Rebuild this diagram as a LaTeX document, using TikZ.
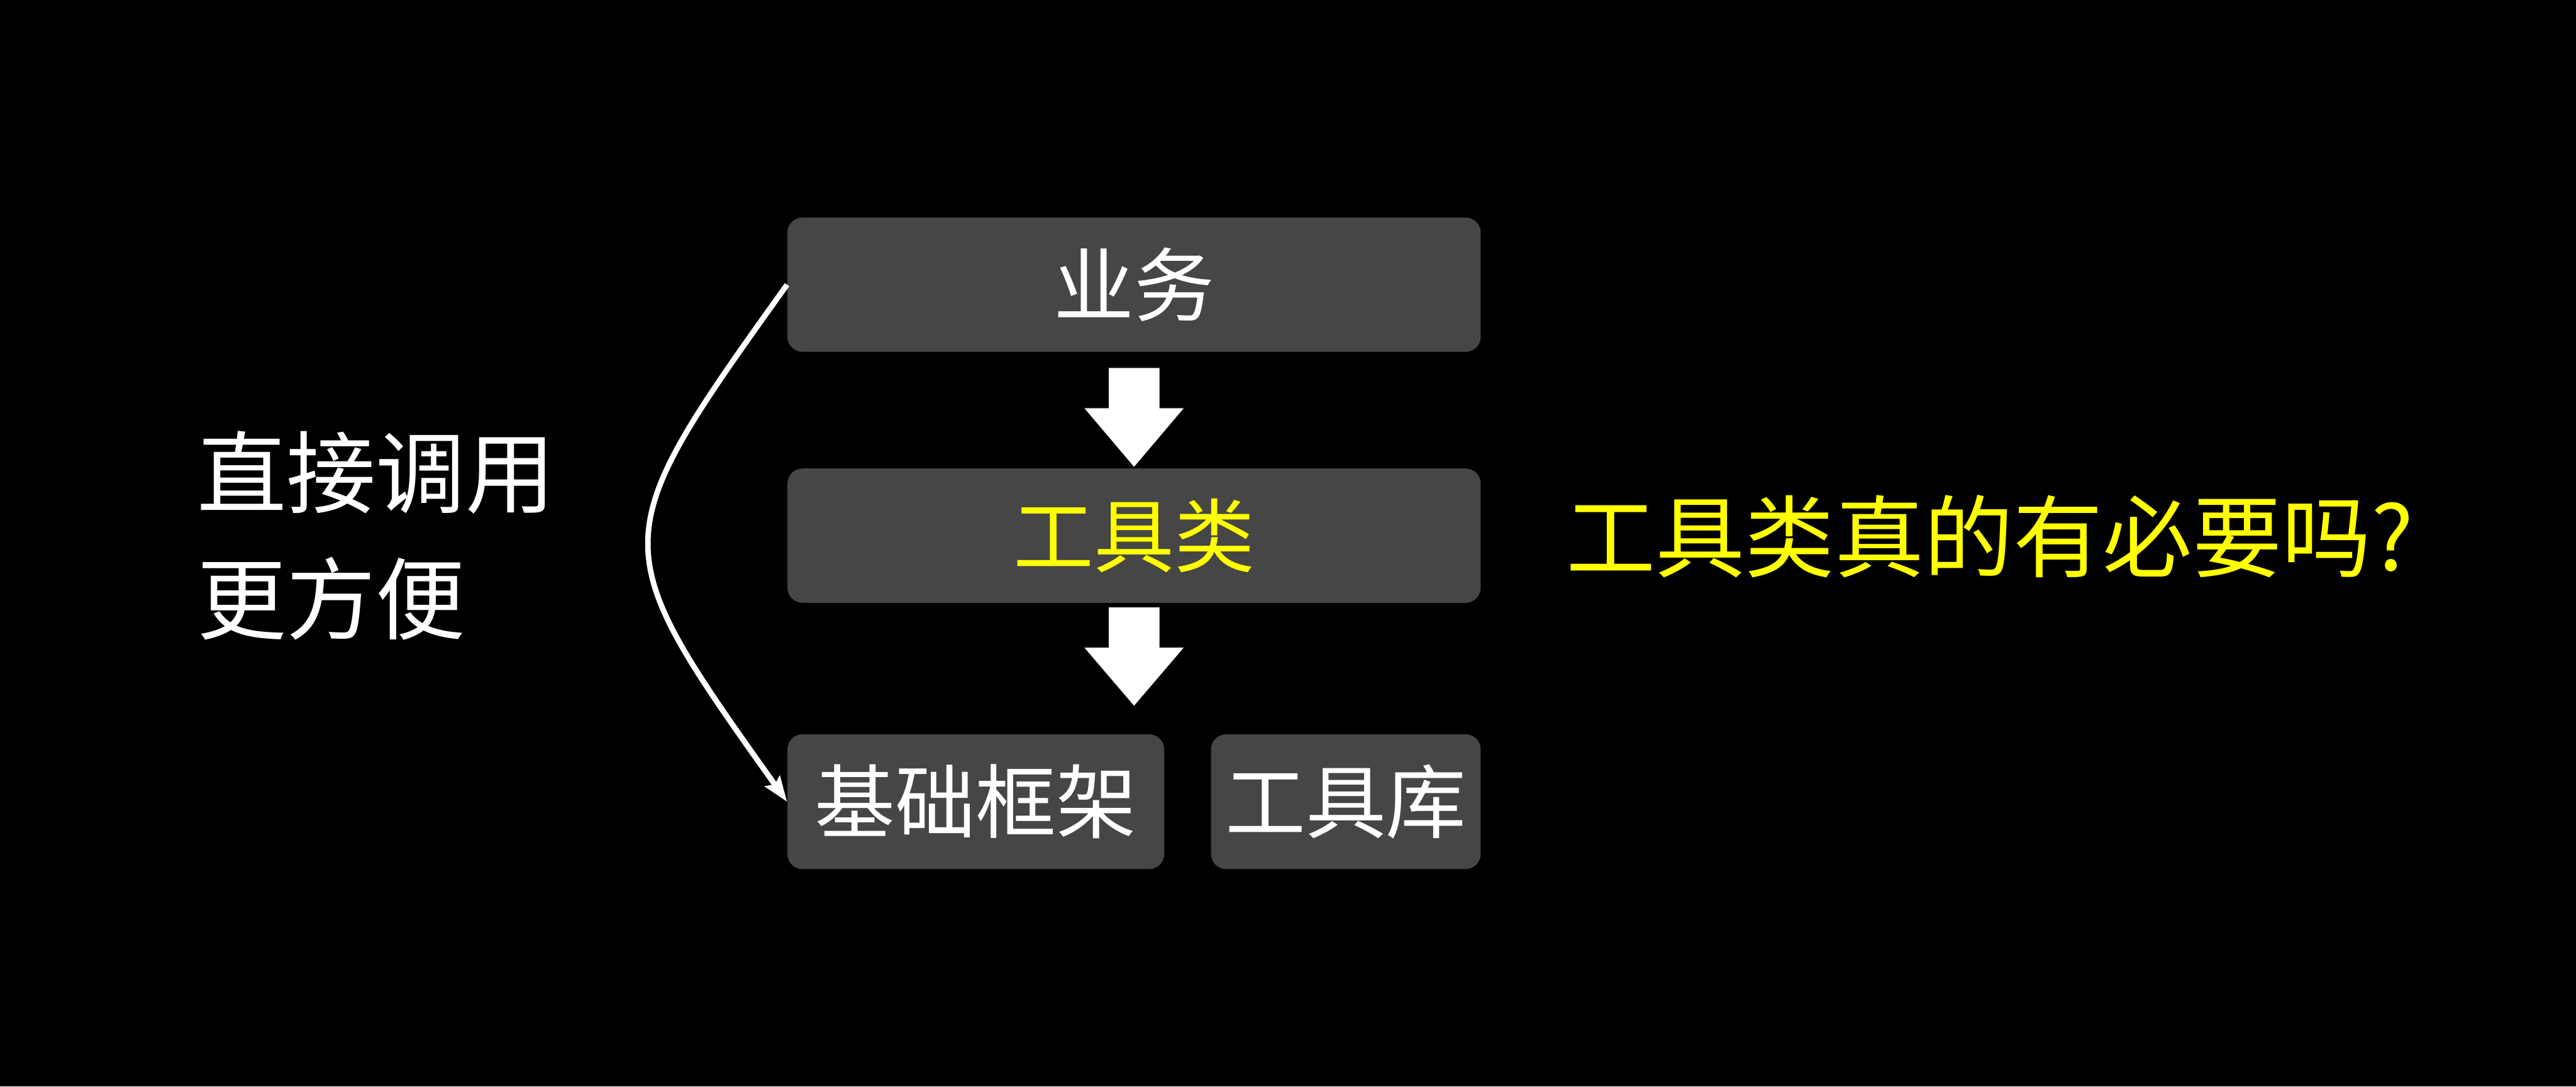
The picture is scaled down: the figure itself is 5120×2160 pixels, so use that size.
\documentclass[tikz,border=0pt]{standalone}
\usepackage{fontspec}
\newfontfamily\cjk{Noto Sans CJK SC}
\usetikzlibrary{calc,arrows.meta}
\definecolor{boxgray}{RGB}{70,70,70}
\definecolor{qyellow}{RGB}{255,255,0}
\begin{document}
\begin{tikzpicture}[x=0.1mm,y=-0.1mm,
  box/.style={fill=boxgray, rounded corners=3mm, inner sep=0pt, text=white,
    font=\cjk\fontsize{45.5pt}{50pt}\selectfont},
  big/.style={text=white, inner sep=0pt, font=\cjk\fontsize{50.6pt}{71.4pt}\selectfont},
  blockarrow/.style={fill=white, draw=black, line width=0.3pt},
  callarrow/.style={draw=white, line width=3.1pt, -{Stealth[length=5mm,width=3.6mm,inset=0.8mm]}}]
\fill[black] (0,0) rectangle (5120,2160);
\useasboundingbox (0,0) rectangle (5120,2160);

\node[box, minimum width=137.8mm, minimum height=26.7mm] (biz) at (2254,566) {业务};
\node[box, minimum width=137.8mm, minimum height=26.7mm, text=qyellow] (tool) at (2254,1065) {工具类};
\node[box, minimum width=74.9mm, minimum height=26.8mm] (fw) at (1939.5,1594) {基础框架};
\node[box, minimum width=53.6mm, minimum height=26.8mm] (lib) at (2675,1594) {工具库};

% block arrows
\filldraw[blockarrow] ($(biz.south)+(-51,31)$) -- ($(biz.south)+(51,31)$) -- ($(biz.south)+(51,111)$)
  -- ($(biz.south)+(100,111)$) -- ($(biz.south)+(0,229)$) -- ($(biz.south)+(-100,111)$)
  -- ($(biz.south)+(-51,111)$) -- cycle;
\filldraw[blockarrow] ($(tool.south)+(-51,8)$) -- ($(tool.south)+(51,8)$) -- ($(tool.south)+(51,88)$)
  -- ($(tool.south)+(100,88)$) -- ($(tool.south)+(0,205)$) -- ($(tool.south)+(-100,88)$)
  -- ($(tool.south)+(-51,88)$) -- cycle;

% direct call curve
\draw[callarrow] (biz.west) .. controls ($(biz.west)+(-365,510)$) and ($(fw.west)+(-365,-513)$) .. (fw.west);

\node[big, anchor=west, align=left] (lefttxt) at (391,1065) {直接调用\\更方便};
\node[big, text=qyellow, anchor=west] (question) at (3112,1066) {工具类真的有必要吗?};
\end{tikzpicture}
\end{document}
